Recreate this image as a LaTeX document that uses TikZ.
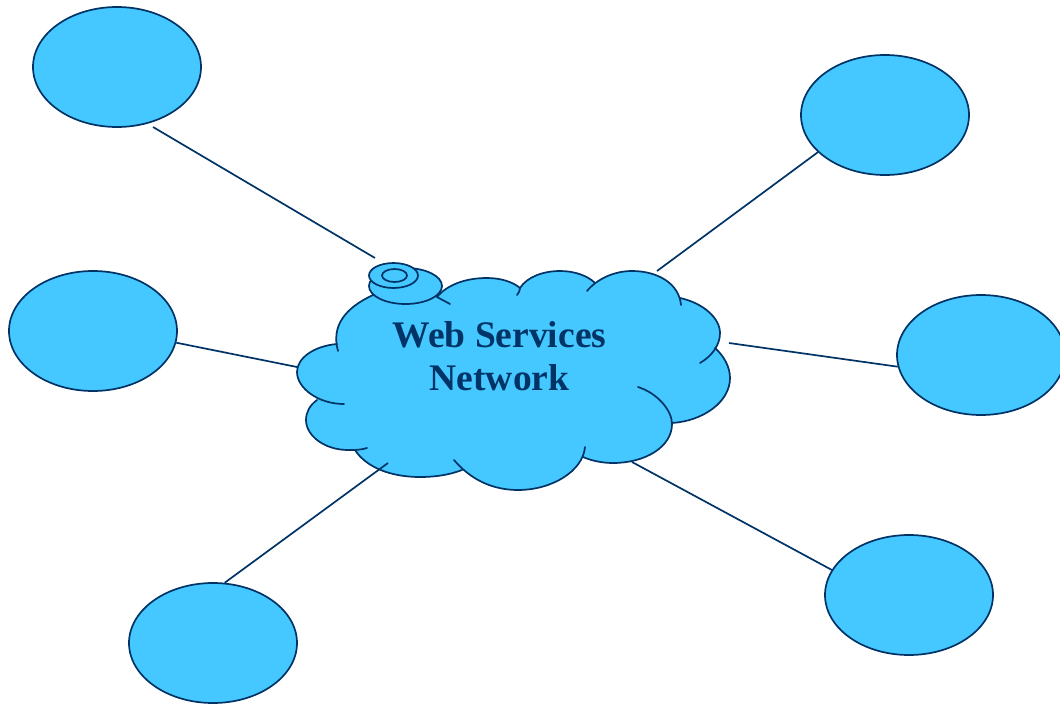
\documentclass[tikz,border=0pt]{standalone}
\usepackage{fontspec}
\setmainfont{Liberation Serif}
\usetikzlibrary{shapes.geometric}
\definecolor{skyfill}{HTML}{45C8FF}
\definecolor{navyline}{HTML}{003366}
\tikzset{
  station/.style={ellipse,draw=navyline,fill=skyfill,line width=1.7pt,minimum width=168pt,minimum height=120pt,inner sep=0pt},
  link/.style={draw=navyline,line width=1.7pt},
  lobe/.style={draw=navyline,line width=1.7pt,line cap=round},
  lobefill/.style={fill=skyfill,draw=none},
  disk/.style={ellipse,draw=navyline,line width=1.7pt,inner sep=0pt},
  cloudtext/.style={text=navyline,font=\bfseries\fontsize{37.5}{43}\selectfont,align=center,inner sep=0pt}
}
\def\lobeA{(338,351) .. controls (331,326) and (345,308) .. (373,295) -- (385,291)}
\def\lobeB{(437,297) .. controls (447,285) and (465,278) .. (487,278) .. controls (501,278) and (513,282) .. (520,288) .. controls (520,290) and (519,293) .. (517,295)}
\def\lobeC{(520,288) .. controls (527,277) and (543,271) .. (560,271) .. controls (575,271) and (588,276) .. (595,283)}
\def\lobeD{(587,291) .. controls (597,279) and (614,271) .. (632,271) .. controls (657,271) and (679,283) .. (681,305)}
\def\lobeE{(680,298) .. controls (703,303) and (720,318) .. (720,333) .. controls (720,345) and (712,356) .. (700,363)}
\def\lobeF{(715,348) .. controls (724,356) and (730,367) .. (730,378) .. controls (730,402) and (703,421) .. (672,423)}
\def\lobeG{(638,387) .. controls (657,393) and (672,410) .. (672,424) .. controls (672,447) and (645,463) .. (613,463) .. controls (603,463) and (592,461) .. (583,457)}
\def\lobeH{(585,447) .. controls (583,471) and (552,490) .. (518,490) .. controls (493,490) and (471,480) .. (454,460)}
\def\lobeI{(462,470) .. controls (449,475) and (435,477) .. (420,477) .. controls (390,477) and (366,467) .. (355,450)}
\def\lobeJ{(367,448) .. controls (361,450) and (355,450) .. (348,450) .. controls (325,450) and (306,436) .. (306,420) .. controls (306,412) and (310,405) .. (317,400)}
\def\lobeK{(344,404) .. controls (318,404) and (297,388) .. (297,372) .. controls (297,358) and (314,346) .. (337,344)}
\begin{document}
\begin{tikzpicture}[x=1pt,y=-1pt]
\useasboundingbox (0,0) rectangle (1060,704);
% outer stations
\node[station] (e1) at (117,67) {};
\node[station] (e2) at (885,115) {};
\node[station] (e3) at (93,331) {};
\node[station] (e4) at (981,355) {};
\node[station] (e5) at (213,643) {};
\node[station] (e6) at (909,595) {};
% cloud body
\fill[lobefill] \lobeA;
\fill[lobefill] \lobeB;
\fill[lobefill] \lobeC;
\fill[lobefill] \lobeD;
\fill[lobefill] \lobeE;
\fill[lobefill] \lobeF;
\fill[lobefill] \lobeG;
\fill[lobefill] \lobeH;
\fill[lobefill] \lobeI;
\fill[lobefill] \lobeJ;
\fill[lobefill] \lobeK;
\path[fill=skyfill,draw=skyfill,line width=2pt,line join=round] (338,345) -- (373,295) -- (437,297) -- (520,288) -- (595,283) -- (680,298) -- (715,348) -- (672,423) -- (583,457) -- (462,470) -- (355,450) -- (317,400) -- cycle;
\draw[lobe] \lobeA;
\draw[lobe] \lobeB;
\draw[lobe] \lobeC;
\draw[lobe] \lobeD;
\draw[lobe] \lobeE;
\draw[lobe] \lobeF;
\draw[lobe] \lobeG;
\draw[lobe] \lobeH;
\draw[lobe] \lobeI;
\draw[lobe] \lobeJ;
\draw[lobe] \lobeK;
\coordinate (t1) at (437,297);
\coordinate (t2) at (450,304);
\draw[lobe] (t1) -- (t2);
% free ends
\coordinate (s1) at (153,127);
\coordinate (c1) at (375,258);
\coordinate (c2) at (657,271);
\coordinate (c3) at (297,367);
\coordinate (c4) at (729,343);
\coordinate (c5) at (388,463);
\coordinate (c6) at (632,462);
\draw[link] (s1) -- (c1);
\draw[link] (e2.209.3) -- (c2);
\draw[link] (e3.-8.1) -- (c3);
\draw[link] (e4.188.2) -- (c4);
\draw[link] (e5.79.6) -- (c5);
\draw[link] (e6.162.9) -- (c6);
% disk stack
\node[disk,fill=skyfill,minimum width=73pt,minimum height=36pt] (d1) at (405.5,286) {};
\node[disk,fill=skyfill,minimum width=49pt,minimum height=25pt] (d2) at (393.5,275.5) {};
\node[disk,minimum width=25pt,minimum height=13pt] (d3) at (394.5,275.5) {};
% label
\node[cloudtext,anchor=base] (lbl) at (499.5,390) {Web Services\\Network};
\end{tikzpicture}
\end{document}
